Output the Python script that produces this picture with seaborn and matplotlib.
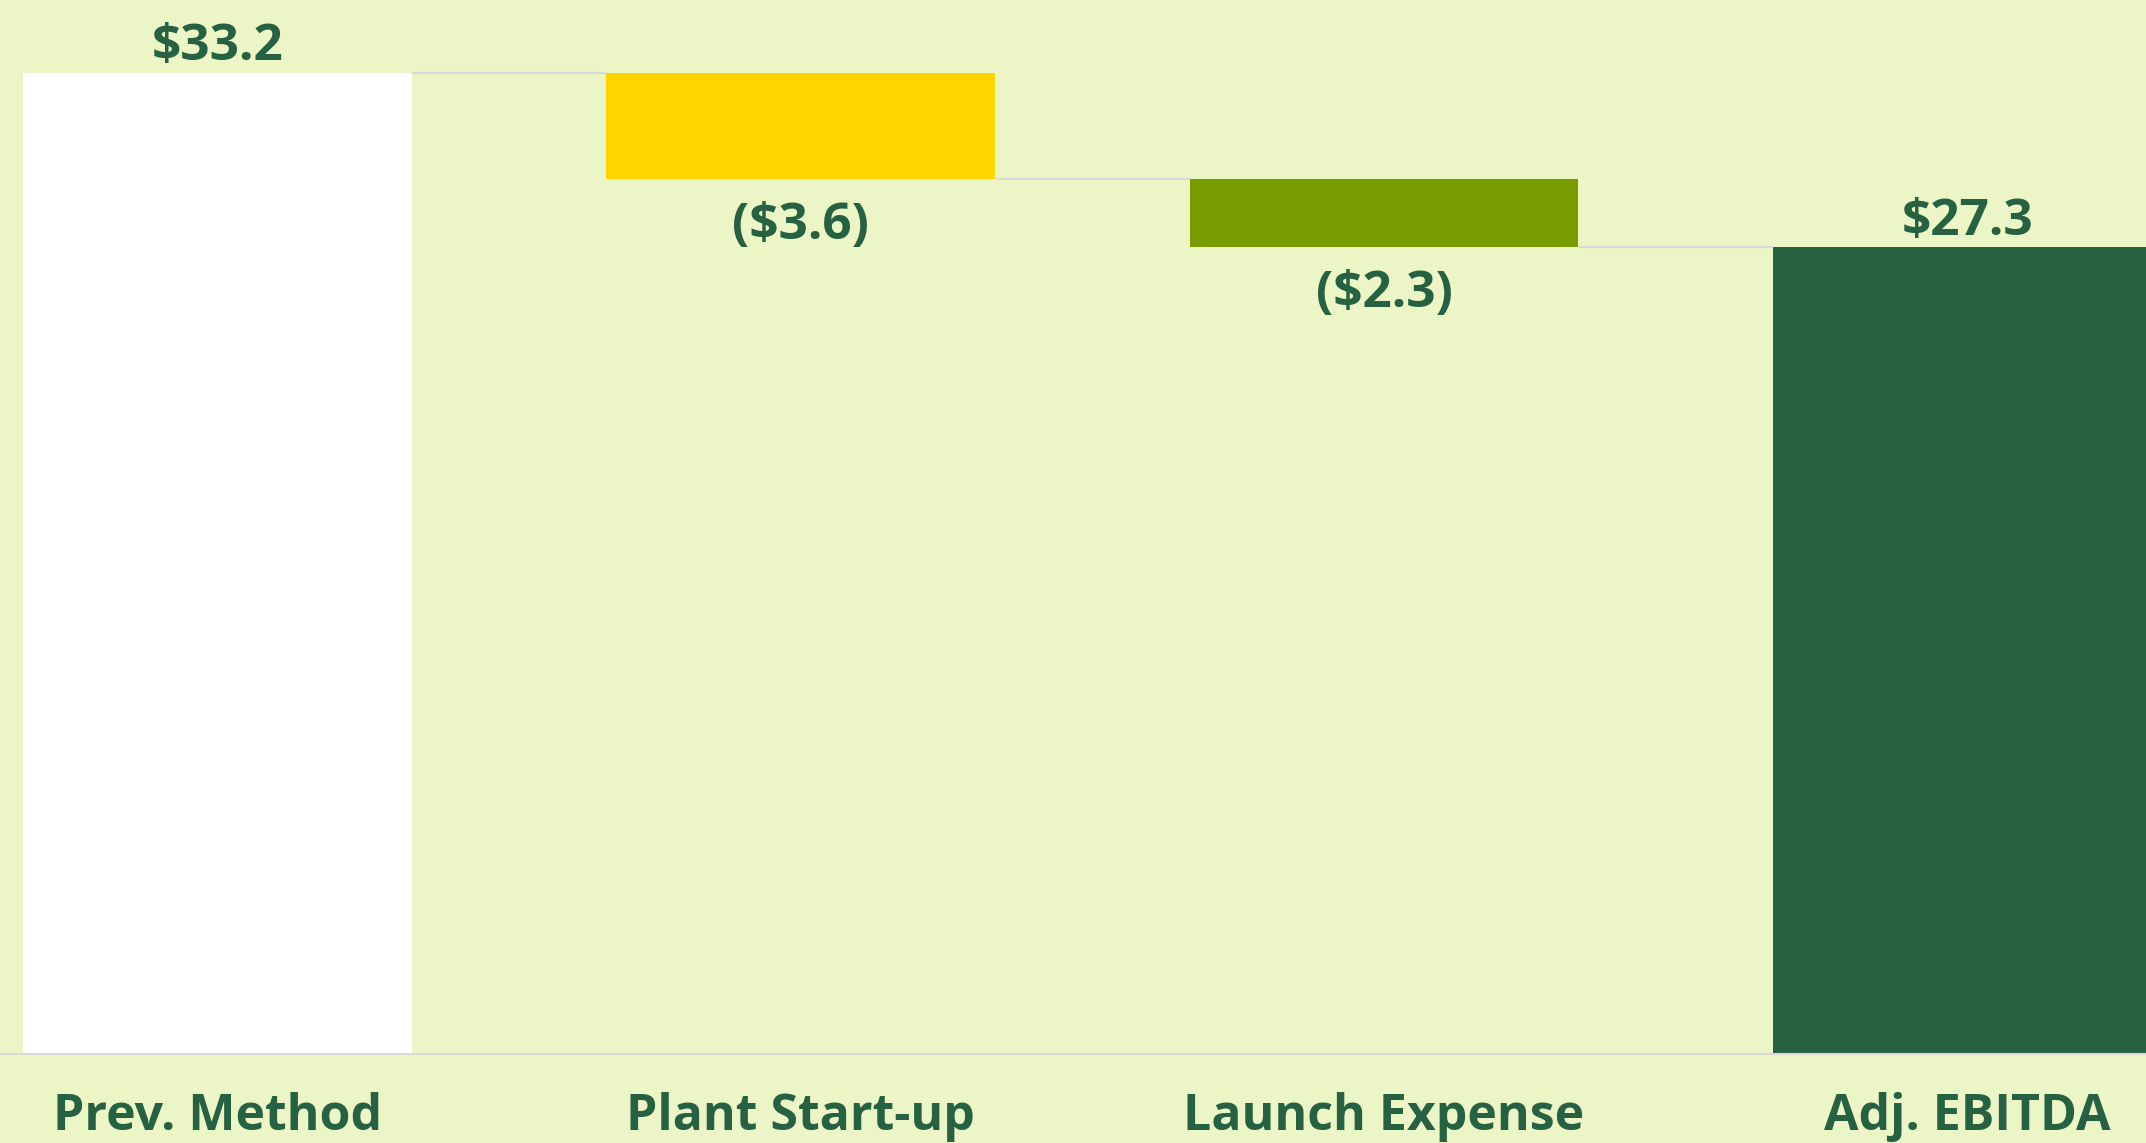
import matplotlib
matplotlib.use("Agg")
import matplotlib.pyplot as plt
import seaborn as sns
import pandas as pd

# ---- data ----
categories = ["Prev. Method", "Plant Start-up", "Launch Expense", "Adj. EBITDA"]
changes = [33.2, -3.6, -2.3, 27.3]
kinds = ["total", "delta", "delta", "total"]
value_labels = ["$33.2", "($3.6)", "($2.3)", "$27.3"]
bar_colors = ["#FFFFFF", "#FFD500", "#789C00", "#266142"]

BG = "#EBF5C5"
TXT = "#266142"
GRID = "#D9D9D9"

# waterfall geometry derived from data
bottoms, tops, levels = [], [], []
running = 0.0
for c, k in zip(changes, kinds):
    if k == "total":
        bottoms.append(0.0)
        tops.append(c)
        running = c
    else:
        new = running + c
        bottoms.append(min(running, new))
        tops.append(max(running, new))
        running = new
    levels.append(running)
heights = [t - b for t, b in zip(tops, bottoms)]

df = pd.DataFrame({"category": categories, "height": heights})

sns.set_style("white")
plt.rcParams["font.family"] = ["Open Sans", "DejaVu Sans"]

W, H = 2146, 1143
fig = plt.figure(figsize=(W / 100, H / 100), dpi=100, facecolor=BG)
ax = fig.add_axes([0, 0.0779, 1, 0.9221])
ax.set_facecolor(BG)

bar_w = 0.6665
sns.barplot(data=df, x="category", y="height", hue="category",
            palette=bar_colors, saturation=1, width=bar_w, legend=False,
            errorbar=None, linewidth=0, ax=ax)

for patch, b in zip(ax.patches, bottoms):
    patch.set_y(b)

# connectors
for i in range(len(categories) - 1):
    ax.plot([i + bar_w / 2, i + 1 - bar_w / 2], [levels[i], levels[i]],
            color=GRID, lw=1.5, zorder=1, solid_capstyle="butt")

ax.set_xlim(-0.3731, 3.3066)
ax.set_ylim(0, 35.66)

# value labels
for i, (k, c, lab) in enumerate(zip(kinds, changes, value_labels)):
    if k == "total":
        ax.annotate(lab, xy=(i, tops[i]), xytext=(0, 9), textcoords="offset points",
                    ha="center", va="baseline", fontsize=37, fontweight="bold", color=TXT)
    else:
        ax.annotate(lab, xy=(i, bottoms[i]), xytext=(0, -43), textcoords="offset points",
                    ha="center", va="baseline", fontsize=37, fontweight="bold", color=TXT)

# category labels
ax.set_xticks([])
ax.set_yticks([])
ax.set_xlabel("")
ax.set_ylabel("")
for i, cat in enumerate(categories):
    ax.annotate(cat, xy=(i, 0), xycoords=("data", "axes fraction"),
                xytext=(0, -54.5), textcoords="offset points",
                ha="center", va="baseline", fontsize=36, fontweight="bold", color=TXT,
                annotation_clip=False)

for s in ["top", "left", "right"]:
    ax.spines[s].set_visible(False)
ax.spines["bottom"].set_color(GRID)
ax.spines["bottom"].set_linewidth(1.5)
ax.spines["bottom"].set_zorder(5)

fig.savefig("out.png", dpi=100, facecolor=BG)
